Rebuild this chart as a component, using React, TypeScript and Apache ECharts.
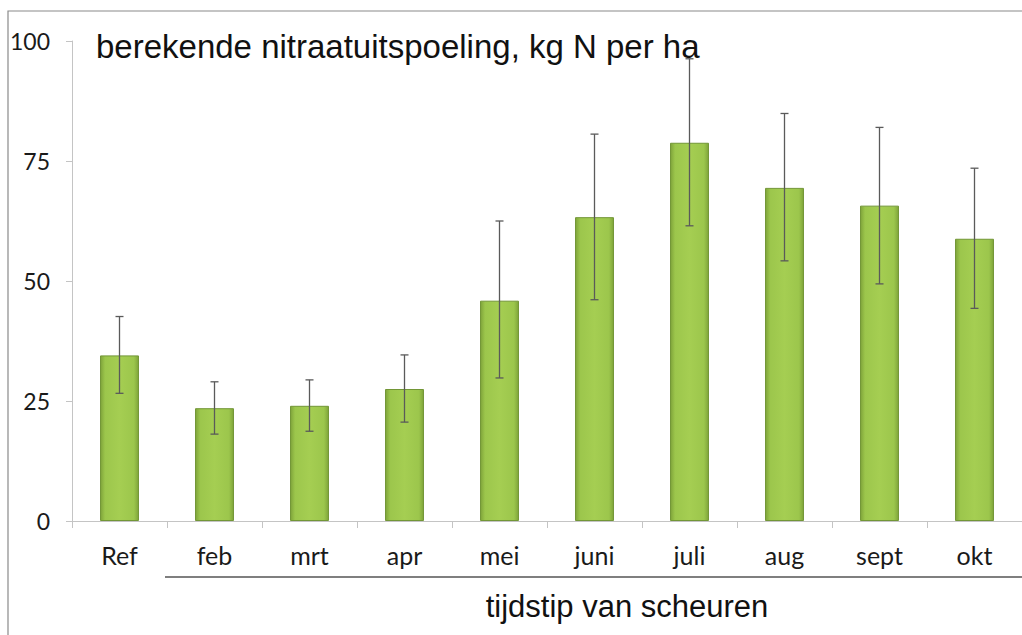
import React, { useEffect, useRef } from "react";
import * as echarts from "echarts";

const categories = ["Ref", "feb", "mrt", "apr", "mei", "juni", "juli", "aug", "sept", "okt"];
const values = [34.5, 23.5, 24.0, 27.5, 45.9, 63.3, 78.8, 69.4, 65.7, 58.8];
const errLow = [26.6, 18.1, 18.7, 20.6, 29.8, 46.1, 61.5, 54.2, 49.4, 44.3];
const errHigh = [42.6, 29.0, 29.4, 34.6, 62.5, 80.6, 96.3, 84.9, 82.0, 73.5];
const yTicks = [0, 25, 50, 75, 100];

export default function App() {
  const ref = useRef<HTMLDivElement>(null);
  useEffect(() => {
    if (!ref.current) return;
    const chart = echarts.init(ref.current, null, { renderer: "svg" });
    const errData = categories.map((_, i) => [i, errLow[i], errHigh[i]]);
    chart.setOption({
      animation: false,
      backgroundColor: "#ffffff",
      grid: { left: 72, top: 41, width: 962, height: 480, containLabel: false },
      xAxis: {
        type: "category",
        data: categories,
        axisLine: { show: true, lineStyle: { color: "#c4c4c4", width: 1 } },
        axisTick: { show: true, length: 7, lineStyle: { color: "#c4c4c4" } },
        axisLabel: {
          margin: 21,
          fontSize: 25,
          fontFamily: "Lato",
          color: "#1a1a1a",
        },
        splitLine: { show: false },
      },
      yAxis: {
        type: "value",
        min: yTicks[0],
        max: yTicks[yTicks.length - 1],
        interval: 25,
        axisLine: { show: true, lineStyle: { color: "#c4c4c4", width: 1 } },
        axisTick: { show: true, length: 6, lineStyle: { color: "#c4c4c4" } },
        axisLabel: {
          margin: 22,
          fontSize: 23,
          fontFamily: "Lato",
          color: "#1a1a1a",
        },
        splitLine: { show: false },
      },
      series: [
        {
          type: "bar",
          data: values,
          barCategoryGap: "59%",
          itemStyle: {
            color: new echarts.graphic.LinearGradient(0, 0, 1, 0, [
              { offset: 0, color: "#7fa43a" },
              { offset: 0.12, color: "#9cc64c" },
              { offset: 0.5, color: "#a5ce52" },
              { offset: 0.88, color: "#9cc64c" },
              { offset: 1, color: "#7fa43a" },
            ]),
            borderColor: "#729636",
            borderWidth: 1,
          },
          z: 2,
        },
        {
          type: "custom",
          data: errData,
          z: 5,
          renderItem: (params: any, api: any) => {
            const x = api.coord([api.value(0), 0])[0];
            const lo = api.coord([api.value(0), api.value(1)])[1];
            const hi = api.coord([api.value(0), api.value(2)])[1];
            const hw = 4;
            const style = { stroke: "#5a5a5a", lineWidth: 1.3 };
            return {
              type: "group",
              children: [
                { type: "line", shape: { x1: x, y1: hi, x2: x, y2: lo }, style },
                { type: "line", shape: { x1: x - hw, y1: hi, x2: x + hw, y2: hi }, style },
                { type: "line", shape: { x1: x - hw, y1: lo, x2: x + hw, y2: lo }, style },
              ],
            };
          },
        },
      ],
      graphic: [
        {
          type: "rect",
          shape: { x: 8, y: 11, width: 1030, height: 640 },
          style: { fill: "none", stroke: "#8a8a8a", lineWidth: 1.2 },
          silent: true,
          z: 0,
        },
        {
          type: "text",
          x: 96,
          y: 30,
          style: {
            text: "berekende nitraatuitspoeling, kg N per ha",
            fontSize: 33,
            fontFamily: "Liberation Sans",
            fill: "#111111",
          },
          z: 1,
        },
        {
          type: "line",
          shape: { x1: 165, y1: 577, x2: 1022, y2: 577 },
          style: { stroke: "#555555", lineWidth: 1.6 },
        },
        {
          type: "text",
          x: 627,
          y: 606,
          style: {
            text: "tijdstip van scheuren",
            fontSize: 31,
            fontFamily: "Liberation Sans",
            fill: "#111111",
            align: "center",
            verticalAlign: "middle",
          },
        },
      ],
    });
    return () => chart.dispose();
  }, []);
  return (
    <div
      ref={ref}
      style={{ position: "fixed", left: 0, top: 0, width: 1022, height: 635 }}
    />
  );
}
